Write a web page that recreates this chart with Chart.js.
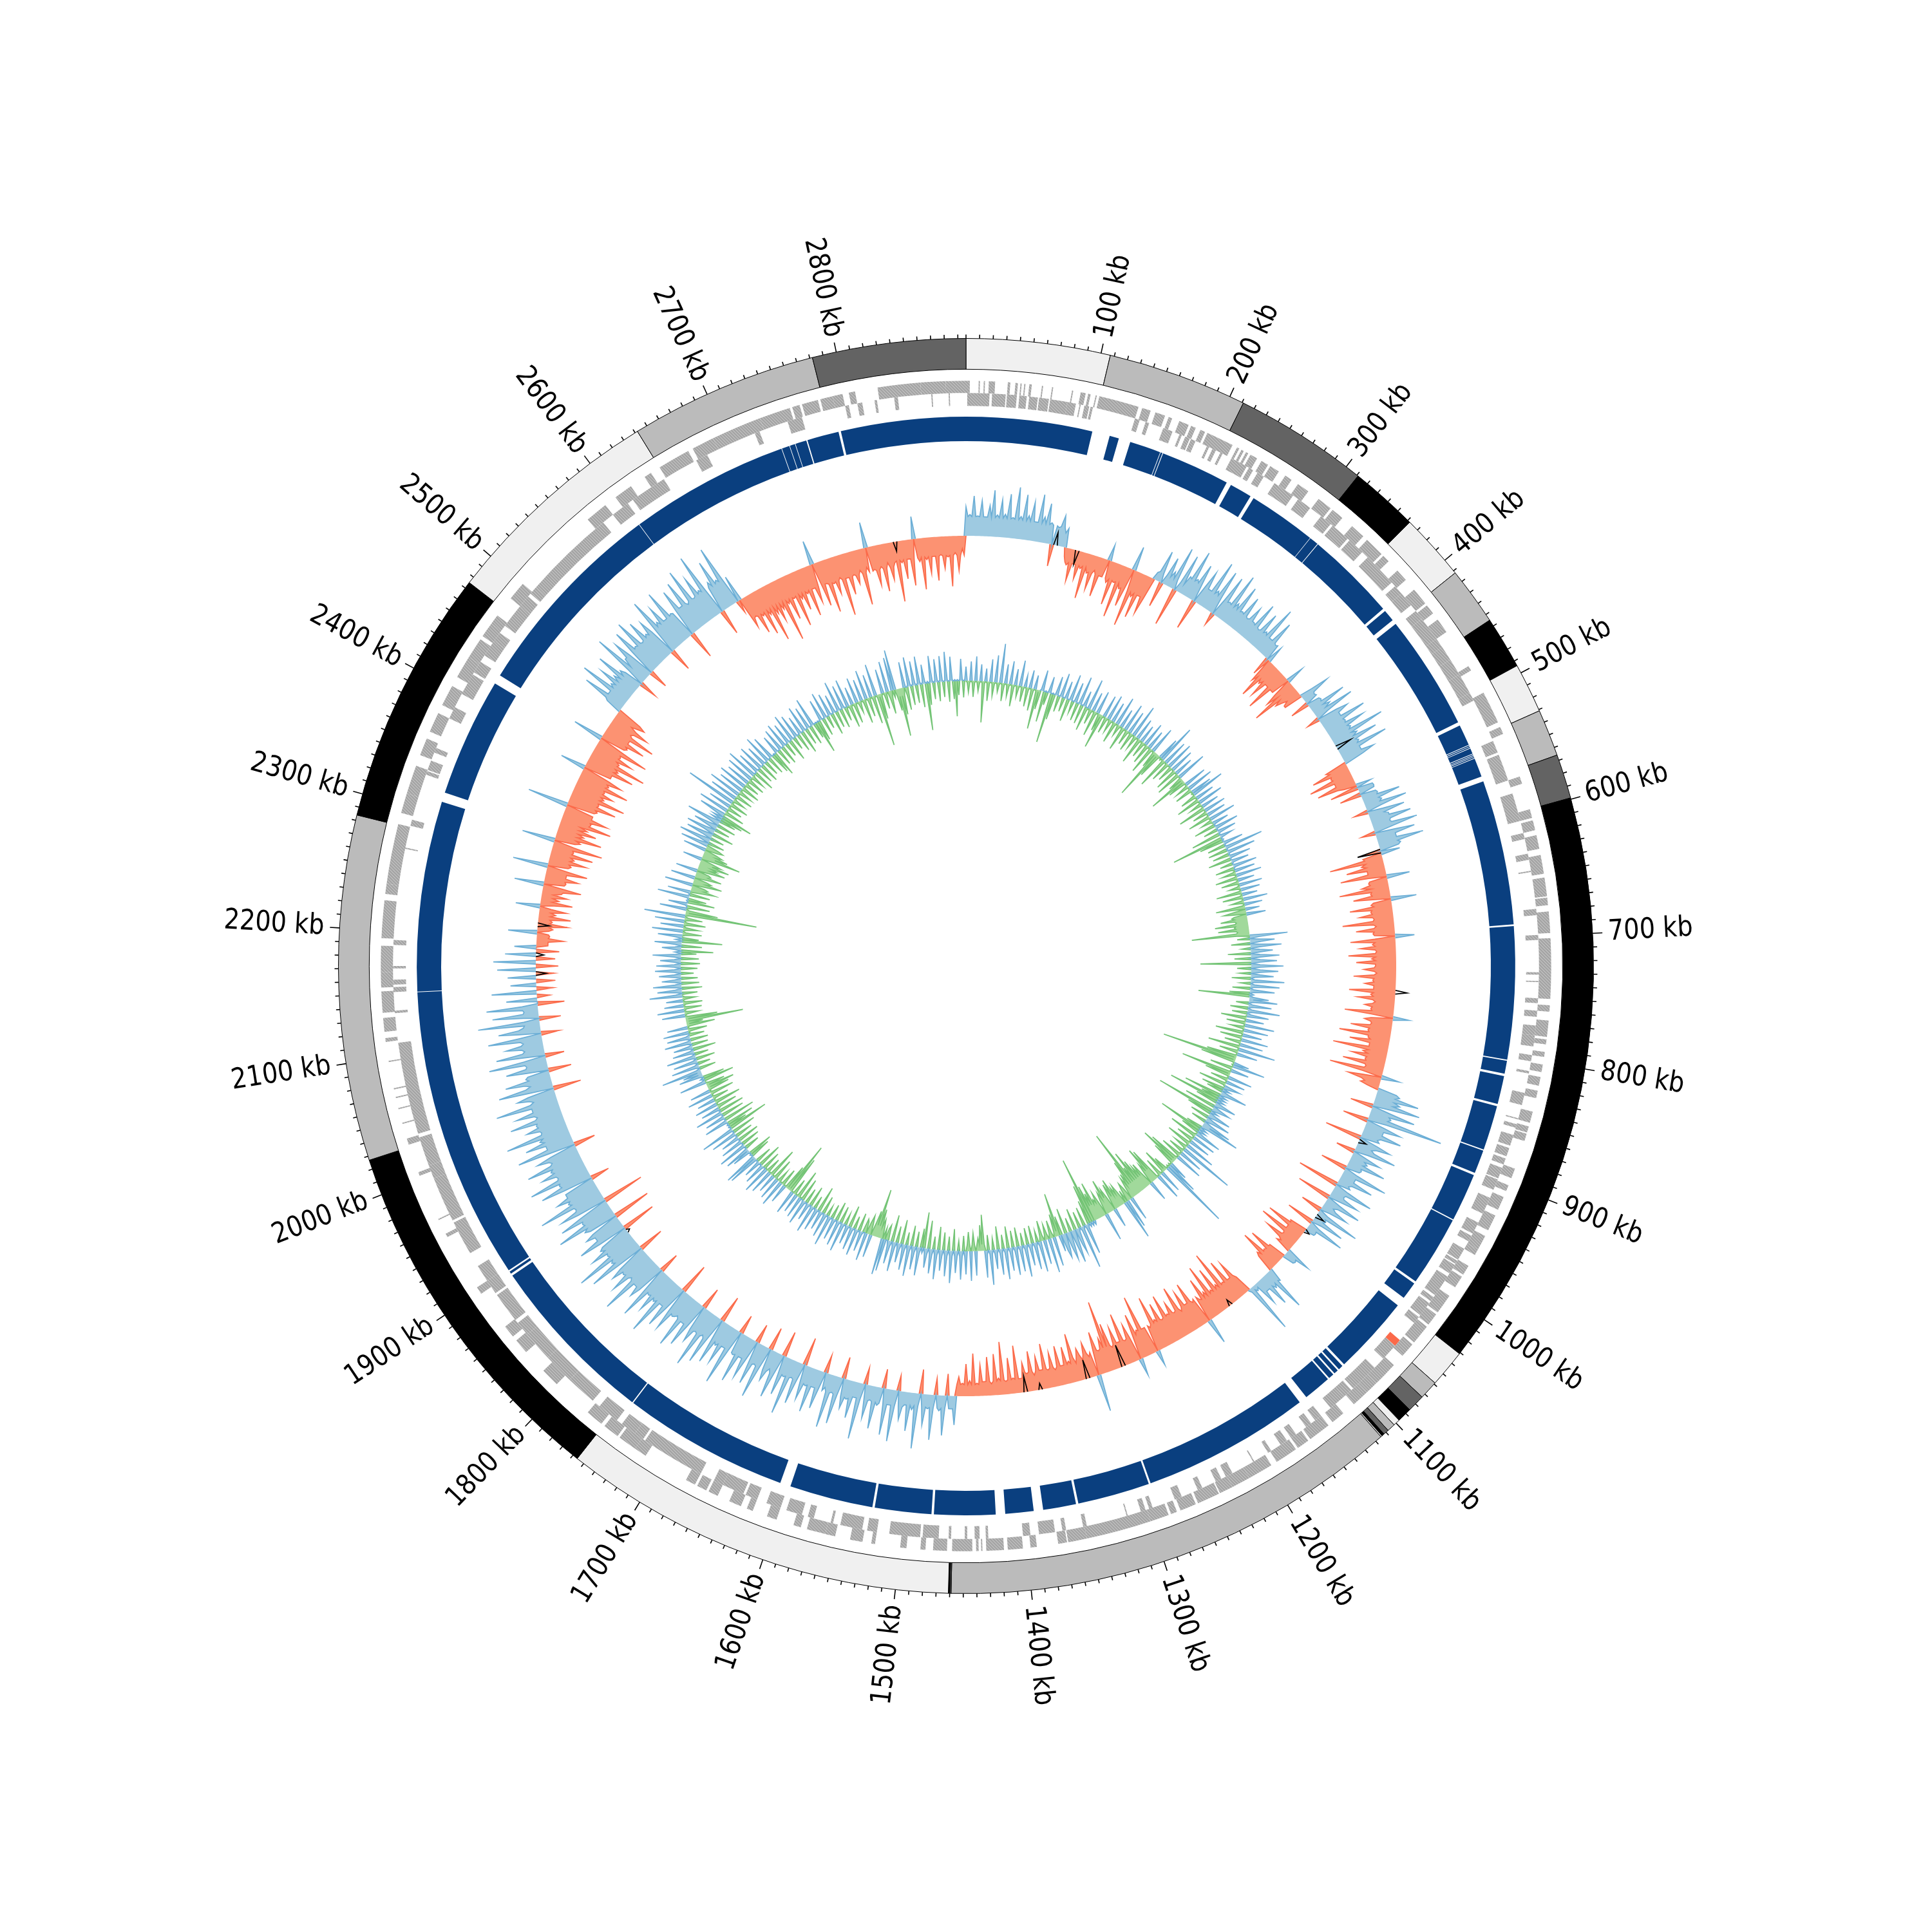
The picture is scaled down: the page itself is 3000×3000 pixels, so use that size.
<!DOCTYPE html>
<html><head><meta charset="utf-8">
<style>html,body{margin:0;padding:0;background:#fff}#w{position:relative;width:3000px;height:3000px}canvas{position:absolute;left:0;top:0}</style>
<script src="https://cdn.jsdelivr.net/npm/chart.js@4"></script>
</head><body><div id="w"><canvas id="rings" width="3000" height="3000"></canvas><canvas id="tracks" width="3000" height="3000"></canvas></div>
<script>
const genomeKb = 2896;
const tickLabels = [100,200,300,400,500,600,700,800,900,1000,1100,1200,1300,1400,1500,1600,1700,1800,1900,2000,2100,2200,2300,2400,2500,2600,2700,2800];
const contigEnds = [107,211,311,362,412,455,494,531,566,599,1031,1059,1073,1086,1097,1102,1108,1112,1114,1115,1459,1460,1461,1756,2027,2284,2475,2642,2782,2896];
const contigShades = ['#f0f0f0','#bbbbbb','#636363','#000000','#f0f0f0','#bbbbbb','#000000','#f0f0f0','#bbbbbb','#636363','#000000','#f0f0f0','#bbbbbb','#636363','#000000','#f0f0f0','#bbbbbb','#636363','#000000','#f0f0f0','#bbbbbb','#636363','#000000','#f0f0f0','#000000','#bbbbbb','#000000','#f0f0f0','#bbbbbb','#636363'];
const genesForward = [[0,3],[10,11],[14,15],[18,23],[33,35],[39,41],[43,44],[46,47],[50,52],[60,61],[68,69],[84,85],[91,95],[97,99],[103,104],[106,138],[141,148],[152,160],[163,166],[172,180],[182,186],[190,194],[196,218],[222,224],[226,228],[230,232],[234,240],[244,250],[252,260],[266,272],[278,288],[298,310],[312,322],[332,344],[348,364],[366,372],[382,392],[402,416],[418,426],[432,444],[476,480],[500,526],[530,536],[572,578],[599,606],[608,616],[620,631],[636,651],[654,669],[670,676],[681,698],[702,750],[755,760],[767,780],[782,786],[792,796],[802,808],[812,819],[823,829],[840,849],[852,857],[858,864],[887,895],[901,906],[911,922],[927,940],[945,957],[955,962],[972,980],[982,992],[1000,1016],[1018,1028],[1030,1046],[1048,1060],[1070,1090],[1090,1100],[1100,1114],[1125,1136],[1140,1158],[1160,1170],[1172,1190],[1195,1215],[1215,1230],[1230,1241],[1242,1260],[1262,1275],[1278,1283],[1285,1300],[1300,1352],[1352,1367],[1368,1375],[1392,1397],[1403,1415],[1418,1432],[1435,1436],[1438,1440],[1443,1459],[1463,1474],[1480,1484],[1495,1500],[1520,1523],[1530,1540],[1552,1560],[1560,1575],[1580,1586],[1600,1608],[1620,1625],[1630,1640],[1650,1658],[1660,1668],[1670,1678],[1715,1725],[1725,1740],[1742,1755],[1758,1772],[1805,1820],[1840,1852],[1856,1866],[1898,1904],[1950,1953],[1965,1966],[2003,2006],[2029,2034],[2046,2047],[2058,2059],[2067,2068],[2074,2075],[2096,2097],[2112,2115],[2120,2131],[2135,2152],[2155,2167],[2167,2188],[2194,2224],[2229,2237],[2237,2285],[2294,2310],[2310,2333],[2342,2356],[2362,2378],[2385,2402],[2410,2428],[2428,2445],[2448,2460],[2460,2468],[2485,2500],[2572,2590],[2600,2615],[2628,2634],[2642,2668],[2672,2690],[2690,2730],[2730,2755],[2757,2763],[2765,2778],[2780,2790],[2787,2798],[2803,2808],[2826,2860],[2860,2880],[2880,2896]];
const genesReverse = [[1,19],[21,32],[33,41],[43,49],[51,58],[59,67],[68,82],[82,89],[92,93],[96,100],[101,103],[138,142],[147,150],[162,170],[176,178],[181,185],[186,190],[200,202],[205,208],[212,214],[222,236],[238,242],[246,252],[262,280],[285,297],[308,318],[320,336],[338,352],[358,386],[390,398],[398,410],[416,424],[424,444],[440,452],[450,464],[464,478],[478,495],[494,502],[538,548],[550,572],[583,606],[616,621],[633,638],[647,648],[678,683],[699,703],[729,731],[736,737],[750,754],[760,765],[772,780],[780,789],[796,801],[809,811],[827,837],[848,849],[853,856],[862,871],[873,880],[882,887],[890,899],[900,909],[916,930],[938,948],[950,955],[962,972],[973,976],[977,985],[988,1006],[1008,1012],[1014,1026],[1028,1034],[1058,1072],[1082,1106],[1108,1116],[1115,1130],[1140,1146],[1150,1155],[1165,1170],[1174,1180],[1189,1192],[1205,1206],[1225,1231],[1235,1240],[1252,1256],[1270,1276],[1295,1298],[1301,1305],[1316,1317],[1350,1353],[1367,1370],[1376,1389],[1396,1402],[1430,1432],[1437,1441],[1447,1449],[1460,1462],[1470,1483],[1485,1510],[1520,1528],[1532,1550],[1556,1558],[1572,1577],[1582,1595],[1600,1612],[1620,1630],[1632,1650],[1650,1658],[1670,1722],[1724,1732],[1732,1745],[1750,1768],[1775,1800],[1800,1825],[1825,1850],[1850,1862],[1865,1890],[1892,1904],[1900,1918],[1930,1958],[1960,1997],[1997,2008],[2008,2032],[2035,2110],[2134,2136],[2151,2155],[2157,2161],[2170,2172],[2189,2193],[2267,2268],[2286,2291],[2329,2332],[2333,2341],[2348,2352],[2378,2388],[2400,2418],[2420,2430],[2436,2450],[2450,2458],[2465,2485],[2485,2495],[2498,2505],[2505,2580],[2590,2605],[2610,2640],[2670,2680],[2722,2726],[2750,2762],[2798,2801],[2808,2812],[2822,2824],[2838,2841],[2868,2869],[2882,2883]];
const rnaReverse = [[1052,1058]];
const codingGaps = [[107,122],[130,140],[166.5,167],[168.6,169.2],[228,232],[251,254],[312,312.4],[320,320.6],[397.6,400],[410,414],[512,515],[533,533.6],[534.4,534.9],[535.8,536.3],[541,541.6],[542.4,542.9],[543.6,544.1],[545,545.6],[561.6,566],[689,690.4],[803,804],[815,817],[841,843],[881,882],[902,904],[945,946],[1006,1008],[1023,1031],[1098,1100],[1104,1105.4],[1109,1110.4],[1115,1116.4],[1140,1147],[1290,1291.6],[1353,1355],[1383,1391],[1415,1423],[1475,1477],[1525,1527],[1598,1607],[1748,1749],[1896,1898],[1900,1901.4],[2150,2150.5],[2312,2320],[2421,2429],[2602,2602.5],[2738,2738.5],[2745,2745.5],[2750,2750.5],[2760,2761],[2788,2790]];
const skewValues = [
45,33,62,31,55,30,48,72,34,58,36,68,32,80,35,70,38,60,30,74,
40,62,33,-34,28,48,22,-14,-26,-50,-22,-44,-26,-72,-30,-54,-22,-62,-28,25,
-34,-68,-30,-84,-36,-62,38,-90,-40,-72,-34,-60,12,50,-40,45,25,68,-60,62,
30,76,32,60,-48,55,28,80,34,72,-20,70,30,82,36,70,30,60,26,50,
28,66,24,58,30,78,26,62,24,-30,-40,-65,-36,-55,-30,-70,-30,28,-48,-75,
-40,-22,-30,48,18,-30,22,60,30,66,-20,50,32,72,34,62,36,88,40,70,
36,80,32,52,-35,-60,-32,-70,-30,-62,-20,-45,25,-34,26,60,28,66,-22,58,
30,64,28,70,-22,62,30,72,34,-28,-30,-84,-35,-60,-28,-72,36,-30,-42,-78,
-30,-58,40,-32,-66,-34,-52,-30,-80,-28,-60,-34,30,-70,-36,-55,-30,-74,-38,-62,
-32,-50,-30,-66,-36,-48,-34,-72,-38,-58,-30,-46,-36,-76,25,-44,-32,-64,-36,-80,
-34,-62,-30,-86,-38,-54,-32,-66,-28,-84,28,-52,-24,-18,36,68,40,74,-36,70,
34,119,-40,56,30,62,26,-58,52,24,66,-30,46,28,60,24,-42,72,22,55,
18,-66,64,20,48,-54,58,16,44,-34,70,18,52,-44,60,16,-28,-65,-26,-70,
-24,-52,-20,40,20,-28,-60,-30,-66,-34,22,70,26,52,20,40,10,80,-28,-60,
-34,-70,-36,-93,-40,-72,-38,-84,-42,-68,-36,40,-38,-74,-42,-66,-36,-80,-40,-60,
-44,-78,-40,-70,-46,-86,-38,24,-42,-97,-44,-72,27,-60,-36,-82,-38,-64,-34,-74,
-112,-54,-36,-68,58,-32,-56,-30,-50,-28,-76,-34,-58,-30,-62,-26,-54,-28,-70,-30,
-52,-24,-62,-28,-46,-22,-74,-24,-56,-20,-82,-26,-64,-18,-60,-22,-48,-20,-66,-24,
-50,-20,-30,45,20,-34,62,24,-26,70,22,48,-38,86,26,60,20,44,-24,80,
24,72,-30,28,66,22,52,-26,88,24,58,30,46,-34,74,26,84,22,-28,60,
28,70,30,54,-44,66,26,88,30,62,-40,72,28,50,-36,84,32,68,-30,64,
34,78,36,-30,92,34,64,38,72,-42,80,36,94,38,60,-34,76,40,86,36,
42,70,-48,74,40,96,44,66,42,88,-32,62,46,100,42,74,48,64,-40,92,
50,106,48,72,52,-54,80,46,60,-60,54,96,50,84,-66,76,46,104,52,68,
48,-30,84,50,96,46,70,52,88,44,66,-34,92,42,74,48,100,40,62,44,
84,38,70,42,98,36,60,-44,86,34,72,38,-36,66,32,90,-30,76,30,58,
30,84,-28,66,26,96,-34,72,22,80,-42,48,-20,70,-26,40,-30,44,-28,60,
-35,66,-30,48,-36,34,-18,-42,-20,45,-24,-46,-22,-50,-26,-42,38,-50,-28,-40,
-30,-60,46,-34,-52,-32,-64,55,-36,-58,-38,-66,-34,-78,52,-40,-72,-42,-60,-44,
-80,-46,-70,-44,64,-48,-76,-46,-86,-50,-62,-46,-82,-48,-66,40,-44,-78,-50,-92,
-46,-64,-42,-84,48,-44,-70,-40,-80,-36,-62,-30,-50,25,70,30,84,36,60,40,
74,38,-28,92,44,70,-30,80,46,88,42,76,48,66,-36,94,50,72,44,90,
46,-44,78,44,84,40,96,42,74,48,104,-40,50,82,46,98,-20,-50,-34,-66,
-40,-74,-44,-90,-48,-62,-46,-100,-42,-70,-38,-86,-44,-64,-40,-78,-36,-60,38,-70,
-36,-84,-40,-58,-34,-96,-38,-66,-36,-52,-32,-88,-30,40,-36,-62,-34,-74,-30,-58,
-32,-94,-34,-60,-30,-72,35,-36,-80,-34,-56,-30,-68,-28,-50,-32,-78,-26,-54,-20];
const contentValues = [
22,-18,30,-25,38,-16,26,-64,20,-30,35,-22,42,-15,61,-28,30,-20,36,-34,
25,-18,40,-24,18,-30,28,-35,22,-62,-30,33,-48,-20,26,-78,-40,30,-25,38,
-22,28,-35,42,-18,32,-28,45,-30,25,-38,48,-24,30,-40,36,-28,-55,35,-26,
40,-20,32,-34,46,-18,30,-38,44,-24,36,-30,52,-22,34,-42,28,-26,38,-32,
30,-44,42,-28,-81,-40,35,62,-50,40,-32,44,-26,38,-36,30,-40,48,-24,-61,
-30,36,-22,42,-28,34,53,-26,30,-38,40,-20,28,-44,35,-24,30,-36,42,-18,
26,-34,38,-22,30,-46,20,-82,-38,32,-28,61,-30,45,-26,34,-36,28,-20,38,
-30,32,-22,40,-35,26,-28,36,-18,30,-40,24,-32,38,-20,28,-46,22,-35,30,
-24,-42,-18,-52,-22,-48,-18,-90,59,-20,38,-30,48,-14,34,-36,44,-26,40,-79,
50,-22,42,-18,35,-30,52,-16,45,-28,38,-32,-80,30,44,-20,36,-28,50,-24,
34,-40,28,-30,46,-22,38,-44,30,-35,42,-26,36,-50,58,-30,32,-48,-118,-55,
24,51,-36,28,-80,-40,38,-28,30,-44,25,-36,-26,42,-60,-30,-82,-35,34,-50,
28,-93,-40,36,-30,40,-24,46,63,-26,-71,-30,42,-45,38,-28,34,-40,48,-22,
87,-26,38,-34,44,-50,-63,-38,30,52,112,-24,-40,36,-30,42,-54,-60,-34,32,
-40,-38,-52,-70,-45,-110,-60,-40,-35,38,-30,46,63,-34,-32,-48,-42,30,-38,-55,
-36,44,-40,-30,-60,-44,-58,-105,-62,-38,48,-30,68,-26,40,-34,52,-22,44,-40,
38,-30,-68,-36,46,-28,54,-24,38,-32,48,-18,42,-28,34,-26,50,-20,40,-30,
44,-26,36,-34,48,-22,40,-36,30,-18,54,-24,42,-56,-40,-20,38,-28,46,-30,
36,-24,44,-16,34,-34,50,-22,40,-28,32,-36,46,-20,38,-44,30,-56,-30,44,
-24,36,-32,48,-20,40,-38,30,-26,46,-42,36,-24,50,57,-30,-45,-76,-40,36,
-30,44,-22,32,-28,42,-20,36,-34,30,-18,46,-26,40,-30,34,-22,48,-16,38,
-28,30,-40,36,-20,44,-32,28,-24,40,-36,34,-46,30,-26,38,-60,-82,-40,30,
-28,42,-20,36,-34,30,-48,38,-24,44,-30,34,-38,28,-26,50,54,-32,-39,30,
40,-24,46,-30,36,-34,30,-28,42,-38,54,-64,-30,-44,38,-50,32,-36,44,-40,
30,-32,36,-42,28,-26,40,-38,32,-34,-44,-30,42,-48,-34,38,30,63,-26,44,
-20,38,-30,46,-22,34,-36,30,-26,42,-28,36,-24,40,-30,32,-44,-26,-90,-50,
36,-22,42,-28,30,-30,26,-20,51,-24,38,-32,44,-28,30,-26,34,-20,40,-26,
38,-30,32,-28,44,-24,-50,30,-32,42,-63,-26,38,-30,48,-24,36,-34,46,-28,
64,-112,-50,42,-36,30,-42,-28,50,-32,36,-38,-26,44,-46,-28,38,-42,-24,34,
-44,-30,-48,-34,30,-62,-40,-30,36,-28,44,-26,50,-22,42,-34,46,-24,38,-30,
54,-26,-36,-50,42,-32,48,-24,36,-30,80,-20,44,-28,52,-22,40,-30,46,-24,
38,-28,44,-22,50,-34,36,-26,42,-30,34,-24,46,-28,38,-32,-40,30,-26,36,
-30,40,-22,34,-34,44,-20,38,-28,30,-36,42,-26,36,-30,46,-24,-51,-32,34,
-28,42,-20,36,-34,30,-26,48,-30,38,-22,44,-36,28,-32,40,-18,34,-38,46,
-30,36,-44,50,-82,-40,38,-26,48,-36,52,63,-34,-75,-42,40,-36,46,-30,38,
-28,44,-36,30,-73,-34,42,-26,36,-30,40,-24,46,-32,38,-28,-55,-22,34,-26];
// floor level of each stretch of a track, read as [start degree, level]
const skewFloors = [[0,30],[13.5,-22],[17,-28],[22,-34],[26,15],[30,28],[40,26],[44.8,-30],[50.8,20],[55,32],[61.8,-30],[65.2,24],[70,30],[74.8,-28],[82,-32],[90,-34],[100,-30],[106.5,30],[115,22],[124,15],[128,-26],[131.5,18],[132.5,-28],[135,20],[137.5,6],[138.8,-34],[145,-42],[155,-38],[165,-30],[172,-22],[178,-18],[181.3,20],[188,24],[195,28],[205,34],[215,40],[225,46],[235,48],[245,42],[255,34],[262,24],[265,0],[272.5,-18],[280,-32],[290,-44],[300,-40],[306.5,30],[312,44],[325,42],[328.3,-36],[340,-38],[350,-30]];
const contentFloors = [[0,-3],[15,2],[25,-4],[45,-3],[60,3],[70,-4],[78,-20],[84,14],[92,6],[100,-3],[115,12],[126,-4],[138,-20],[148,-24],[153,6],[157,26],[161,-8],[165,6],[176,-10],[180,8],[196,-18],[201,4],[215,-3],[225,3],[240,-4],[246,6],[256,-4],[264,10],[276,-5],[282,3],[285,-20],[295,16],[302,-4],[312,2],[335,-4],[344,-12],[348,3],[355,2]];
const blackMarks = [[24,20],[30,-22],[119,25],[149,-37],[187,18],[228,12],[251,14],[256,8],[284,-10],[317,-35],[327,-30],[340,-10],[344,-25],[464,-5],[538,-16],[543,-12],[551,-18],[701,-15]];

// ring geometry
const R = {outer:975, contigIn:927, fwdOut:909, fwdIn:890, revIn:870, codeOut:853, codeIn:815, skewBase:668, contentBase:443};
const tickMinor = 6, tickMajor = 15, labelGap = 24;

function hatch(){
  const t = document.createElement('canvas'); t.width = 5; t.height = 5;
  const g = t.getContext('2d');
  g.fillStyle = '#a6a6a6'; g.fillRect(0,0,5,5);
  g.fillStyle = '#cdcdcd';
  for (let i=0;i<5;i++) g.fillRect(i,i,1,1);
  return g.createPattern(t,'repeat');
}
const geneFill = hatch();
function blocks(pairs, fill, rna){
  const data = [], colors = []; let pos = 0;
  for (const [s,e] of pairs){
    const a = Math.max(s,pos), b = Math.max(e,a);
    if (a>pos){ data.push(a-pos); colors.push('rgba(0,0,0,0)'); }
    if (b>a){ data.push(b-a); colors.push(rna && rna.some(r=>r[0]===s) ? '#fb6a4a' : fill); }
    pos = b;
  }
  if (pos<genomeKb){ data.push(genomeKb-pos); colors.push('rgba(0,0,0,0)'); }
  return {data, colors};
}
function inverse(gaps){
  const out = []; let pos = 0;
  for (const [s,e] of gaps){ out.push([pos,s]); pos = e; }
  out.push([pos,genomeKb]);
  return out;
}
const fwd = blocks(genesForward,geneFill);
const rev = blocks(genesReverse.concat(rnaReverse).sort((a,b)=>a[0]-b[0]),geneFill,rnaReverse);
const code = blocks(inverse(codingGaps),'#0a3f7f');
const contigLen = contigEnds.map((e,i)=>e-(i?contigEnds[i-1]:0));
const ring = (data,bg,weight,extra) => Object.assign({data,backgroundColor:bg,weight,borderWidth:0,hoverOffset:0},extra||{});
const spacer = w => ring([1],'rgba(0,0,0,0)',w);

const axisPlugin = {id:'axisPlugin', afterDraw(c){
  const ctx = c.ctx, a0 = c.getDatasetMeta(0).data[0], cx = a0.x, cy = a0.y, r0 = a0.outerRadius;
  ctx.save(); ctx.strokeStyle='#000'; ctx.lineWidth=1.6;
  for (let kb=0; kb<genomeKb; kb+=10){
    const a = kb/genomeKb*2*Math.PI, major = kb%100===0 && kb>0, l = major?tickMajor:tickMinor;
    ctx.beginPath();
    ctx.moveTo(cx+r0*Math.sin(a),cy-r0*Math.cos(a));
    ctx.lineTo(cx+(r0+l)*Math.sin(a),cy-(r0+l)*Math.cos(a));
    ctx.stroke();
  }
  ctx.fillStyle='#000'; ctx.textBaseline='middle';
  ctx.font='44px "DejaVu Sans"';
  for (const kb of tickLabels){
    const a = kb/genomeKb*2*Math.PI, r = r0+labelGap, right = a<Math.PI;
    ctx.save();
    ctx.translate(cx+r*Math.sin(a),cy-r*Math.cos(a));
    ctx.rotate(right ? a-Math.PI/2 : a+Math.PI/2);
    ctx.scale(0.87,1);
    ctx.textAlign = right?'left':'right';
    ctx.fillText(kb+' kb',0,0);
    ctx.restore();
  }
  ctx.restore();
}};

new Chart(document.getElementById('rings'),{
  type:'doughnut',
  data:{labels:contigLen.map((_,i)=>'contig '+(i+1)),datasets:[
    ring(contigLen,contigShades,R.outer-R.contigIn,{borderWidth:1,borderColor:'#000'}),
    spacer(R.contigIn-R.fwdOut),
    ring(fwd.data,fwd.colors,R.fwdOut-R.fwdIn),
    ring(rev.data,rev.colors,R.fwdIn-R.revIn),
    spacer(R.revIn-R.codeOut),
    ring(code.data,code.colors,R.codeOut-R.codeIn)
  ]},
  options:{responsive:false,animation:false,cutout:R.codeIn,rotation:0,circumference:360,
    layout:{padding:1500-R.outer},
    plugins:{legend:{display:false},tooltip:{enabled:false}},events:[]},
  plugins:[axisPlugin]
});

// each window: its read value, then the stretch's floor before the next window
function sampled(values,floors){
  const out = [], step = 360/values.length;
  values.forEach((v,i)=>{
    const deg = (i+0.5)*step;
    let f = floors[0][1];
    for (const [d,l] of floors) if (d<=deg) f = l;
    out.push(v,f);
  });
  return out;
}
// keep only points that touch a stroke on this side of the base, so no line runs along the base
function sideOnly(levels,base){
  const c = levels.length;
  return levels.map((l,i)=>(l!==base||levels[(i+1)%c]!==base||levels[(i+c-1)%c]!==base)?l:null);
}
function trackSets(samples,base,upLine,upFill,downLine,downFill){
  const up = sideOnly(samples.map(v=>base+Math.max(v,0)),base), down = sideOnly(samples.map(v=>base+Math.min(v,0)),base);
  const mk = (d,line,fill) => ({data:d,borderColor:line,backgroundColor:fill,borderWidth:1.7,pointRadius:0,tension:0,spanGaps:false,fill:{value:base}});
  return [mk(up,upLine,upFill),mk(down,downLine,downFill)];
}
const skewS = sampled(skewValues,skewFloors), contentS = sampled(contentValues,contentFloors);
const marks = skewS.map(()=>R.skewBase);
blackMarks.forEach(([i,v])=>{marks[i*2]=R.skewBase+v;});
const blackSet = {data:sideOnly(marks,R.skewBase),borderColor:'#000',borderWidth:1.7,pointRadius:0,tension:0,fill:false,spanGaps:false};
new Chart(document.getElementById('tracks'),{
  type:'radar',
  data:{labels:skewS.map((_,i)=>String(i)),datasets:[
    blackSet,
    ...trackSets(skewS,R.skewBase,'#6baed6','#9ecae1','#fb6a4a','#fc9272'),
    ...trackSets(contentS,R.contentBase,'#6baed6','#9ecae1','#74c476','#a1d99b')
  ]},
  options:{responsive:false,animation:false,events:[],
    layout:{padding:0},
    plugins:{legend:{display:false},tooltip:{enabled:false}},
    scales:{r:{min:0,max:1500,display:true,grid:{display:false},angleLines:{display:false},
      ticks:{display:false},pointLabels:{display:false}}}}
});
</script></body></html>
